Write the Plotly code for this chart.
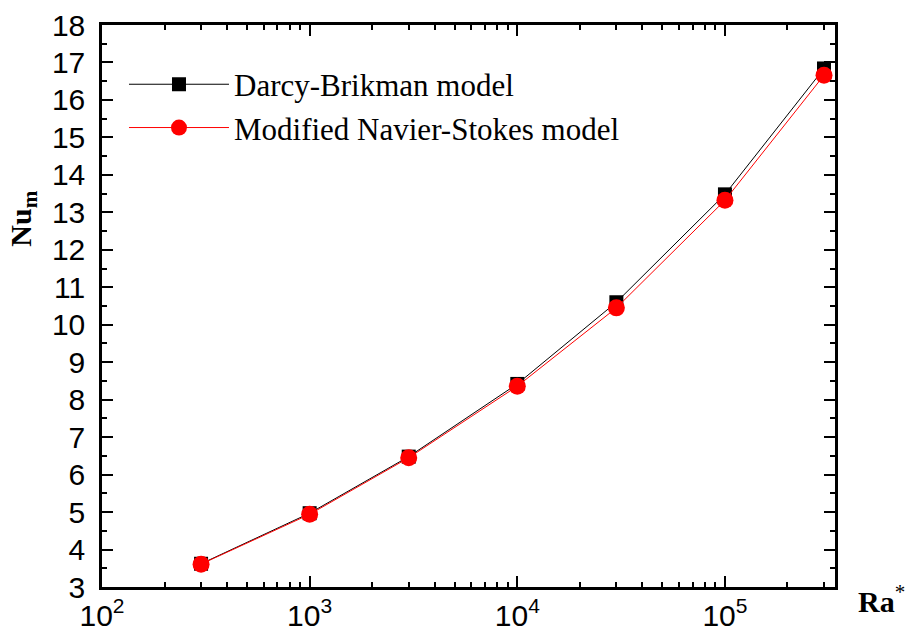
import plotly.graph_objects as go

ra = [300, 1000, 3000, 10000, 30000, 100000, 300000]
nu_darcy = [3.62, 4.97, 6.48, 8.42, 10.6, 13.48, 16.84]
nu_navier = [3.61, 4.94, 6.45, 8.36, 10.45, 13.32, 16.66]

x_major = [100, 1000, 10000, 100000]
x_major_text = ["10<sup>2</sup>", "10<sup>3</sup>", "10<sup>4</sup>", "10<sup>5</sup>"]
x_minor = [m * d for d in [100, 1000, 10000, 100000] for m in range(2, 10) if m * d < 350000]

fig = go.Figure()
fig.add_trace(go.Scatter(
    x=ra, y=nu_darcy, mode="lines+markers", name="Darcy-Brikman model",
    line=dict(color="black", width=1),
    marker=dict(symbol="square", size=14, color="black"),
))
fig.add_trace(go.Scatter(
    x=ra, y=nu_navier, mode="lines+markers", name="Modified Navier-Stokes model",
    line=dict(color="red", width=1),
    marker=dict(symbol="circle", size=17, color="red"),
))

axis_common = dict(
    showline=True, linecolor="black", linewidth=2.5, mirror="ticks",
    ticks="inside", tickcolor="black", tickwidth=2,
    showgrid=False, zeroline=False, automargin=False,
    tickfont=dict(family="Liberation Sans, Arial", size=30, color="black"),
)

fig.update_xaxes(
    type="log", range=[2, 5.53],
    tickvals=x_major, ticktext=x_major_text, ticklen=11,
    minor=dict(tickvals=x_minor, ticks="inside", ticklen=5, tickwidth=2, tickcolor="black", showgrid=False),
    **axis_common,
)
fig.update_yaxes(
    range=[3, 18], dtick=1, ticklen=11, ticklabelstandoff=8,
    minor=dict(dtick=0.5, ticks="inside", ticklen=5, tickwidth=2, tickcolor="black", showgrid=False),
    **axis_common,
)

fig.add_annotation(
    x=-0.108, y=0.655, xref="paper", yref="paper", xanchor="center", yanchor="middle",
    text="<b>Nu<sub>m</sub></b>", textangle=-90, showarrow=False,
    font=dict(family="Liberation Serif, Times New Roman", size=30, color="black"),
)
fig.add_annotation(
    x=1.028, y=-0.021, xref="paper", yref="paper", xanchor="left", yanchor="middle",
    text="<b>Ra</b><sup>*</sup>", showarrow=False,
    font=dict(family="Liberation Serif, Times New Roman", size=30, color="black"),
)

fig.update_layout(
    width=905, height=635,
    margin=dict(l=102, r=70, t=25, b=48),
    paper_bgcolor="white", plot_bgcolor="white",
    showlegend=True,
    legend=dict(
        x=0.03, y=0.942, xanchor="left", yanchor="top",
        bgcolor="rgba(0,0,0,0)", itemwidth=100, tracegroupgap=0,
        font=dict(family="Liberation Serif, Times New Roman", size=31, color="black"),
    ),
)

fig.write_html("out.html")
